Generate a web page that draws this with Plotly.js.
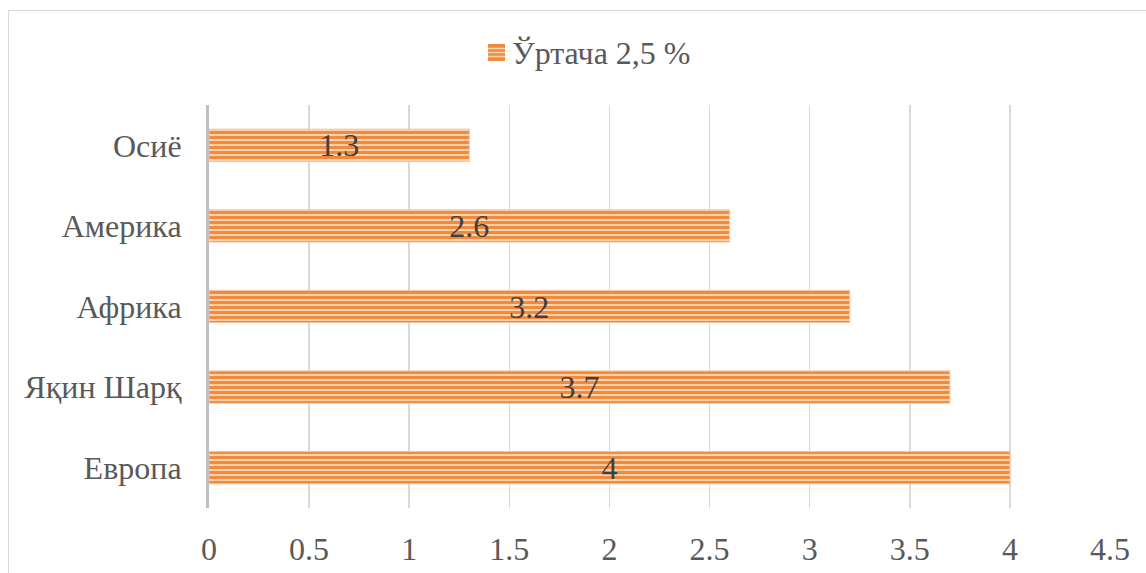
<!DOCTYPE html>
<html>
<head>
<meta charset="utf-8">
<script src="https://cdn.plot.ly/plotly-3.0.1.min.js"></script>
<style>
html,body{margin:0;padding:0;background:#fff;}
#frame{position:absolute;left:8px;top:10px;width:1200px;height:620px;border:1px solid #d9d9d9;box-sizing:border-box;}
#chart{position:absolute;left:0;top:0;width:1146px;height:573px;}
</style>
</head>
<body>
<div id="frame"></div>
<div id="chart"></div>
<script>
const categories = ["Европа", "Яқин Шарқ", "Африка", "Америка", "Осиё"];
const values = [4, 3.7, 3.2, 2.6, 1.3];
const seriesName = "Ўртача 2,5 %";
const xTicks = [0, 0.5, 1, 1.5, 2, 2.5, 3, 3.5, 4, 4.5];
const xTickText = ["0", "0.5", "1", "1.5", "2", "2.5", "3", "3.5", "4", "4.5"];

const fontFam = "Liberation Serif";
const dark = "#f28a3e", light = "#fbd2ae";

const trace = {
  type: "bar",
  orientation: "h",
  y: categories,
  x: values,
  name: seriesName,
  width: 0.4,
  text: values.map(String),
  textposition: "inside",
  insidetextanchor: "middle",
  constraintext: "none",
  textangle: 0,
  textfont: {family: fontFam, size: 32, color: "#404040"},
  insidetextfont: {family: fontFam, size: 32, color: "#404040"},
  marker: {
    color: light,
    line: {color: "#f9c09a", width: 1},
    pattern: {shape: "-", fgcolor: dark, bgcolor: light, fgopacity: 1, size: 5, solidity: 0.6, fillmode: "replace"}
  },
  showlegend: false,
  hoverinfo: "none"
};

// custom legend swatch (paper coordinates)
const px = v => (v - 209) / 901;
const py = v => (508 - v) / 403;
const shapes = [
  {type: "rect", xref: "paper", yref: "paper", x0: px(488), x1: px(505), y0: py(61), y1: py(44),
   fillcolor: dark, line: {width: 0}},
  ...[48.5, 52.5, 56.5].map(y => ({type: "line", xref: "paper", yref: "paper",
    x0: px(488), x1: px(505), y0: py(y), y1: py(y), line: {color: light, width: 1.5}}))
];
const annotations = [
  {xref: "paper", yref: "paper", x: px(510), y: py(53), xanchor: "left", yanchor: "middle",
   text: seriesName, showarrow: false, font: {family: fontFam, size: 32, color: "#595959"}}
];

const layout = {
  width: 1146, height: 573,
  margin: {l: 209, r: 36, t: 105, b: 65},
  paper_bgcolor: "rgba(0,0,0,0)",
  plot_bgcolor: "rgba(0,0,0,0)",
  showlegend: false,
  font: {family: fontFam},
  shapes: shapes,
  annotations: annotations,
  xaxis: {
    range: [0, 4.5],
    tickvals: xTicks, ticktext: xTickText,
    showgrid: true, gridcolor: "#d9d9d9", gridwidth: 1.5,
    zeroline: false, showline: false,
    ticks: "", ticklabelstandoff: 19,
    tickfont: {family: fontFam, size: 32, color: "#595959"},
    fixedrange: true
  },
  yaxis: {
    type: "category",
    showgrid: false, zeroline: false,
    showline: true, linecolor: "#bfbfbf", linewidth: 3,
    ticks: "", ticklabelstandoff: 18,
    tickfont: {family: fontFam, size: 32, color: "#595959"},
    fixedrange: true
  },
  bargap: 0.6
};

Plotly.newPlot("chart", [trace], layout, {displayModeBar: false, staticPlot: true});
</script>
</body>
</html>
